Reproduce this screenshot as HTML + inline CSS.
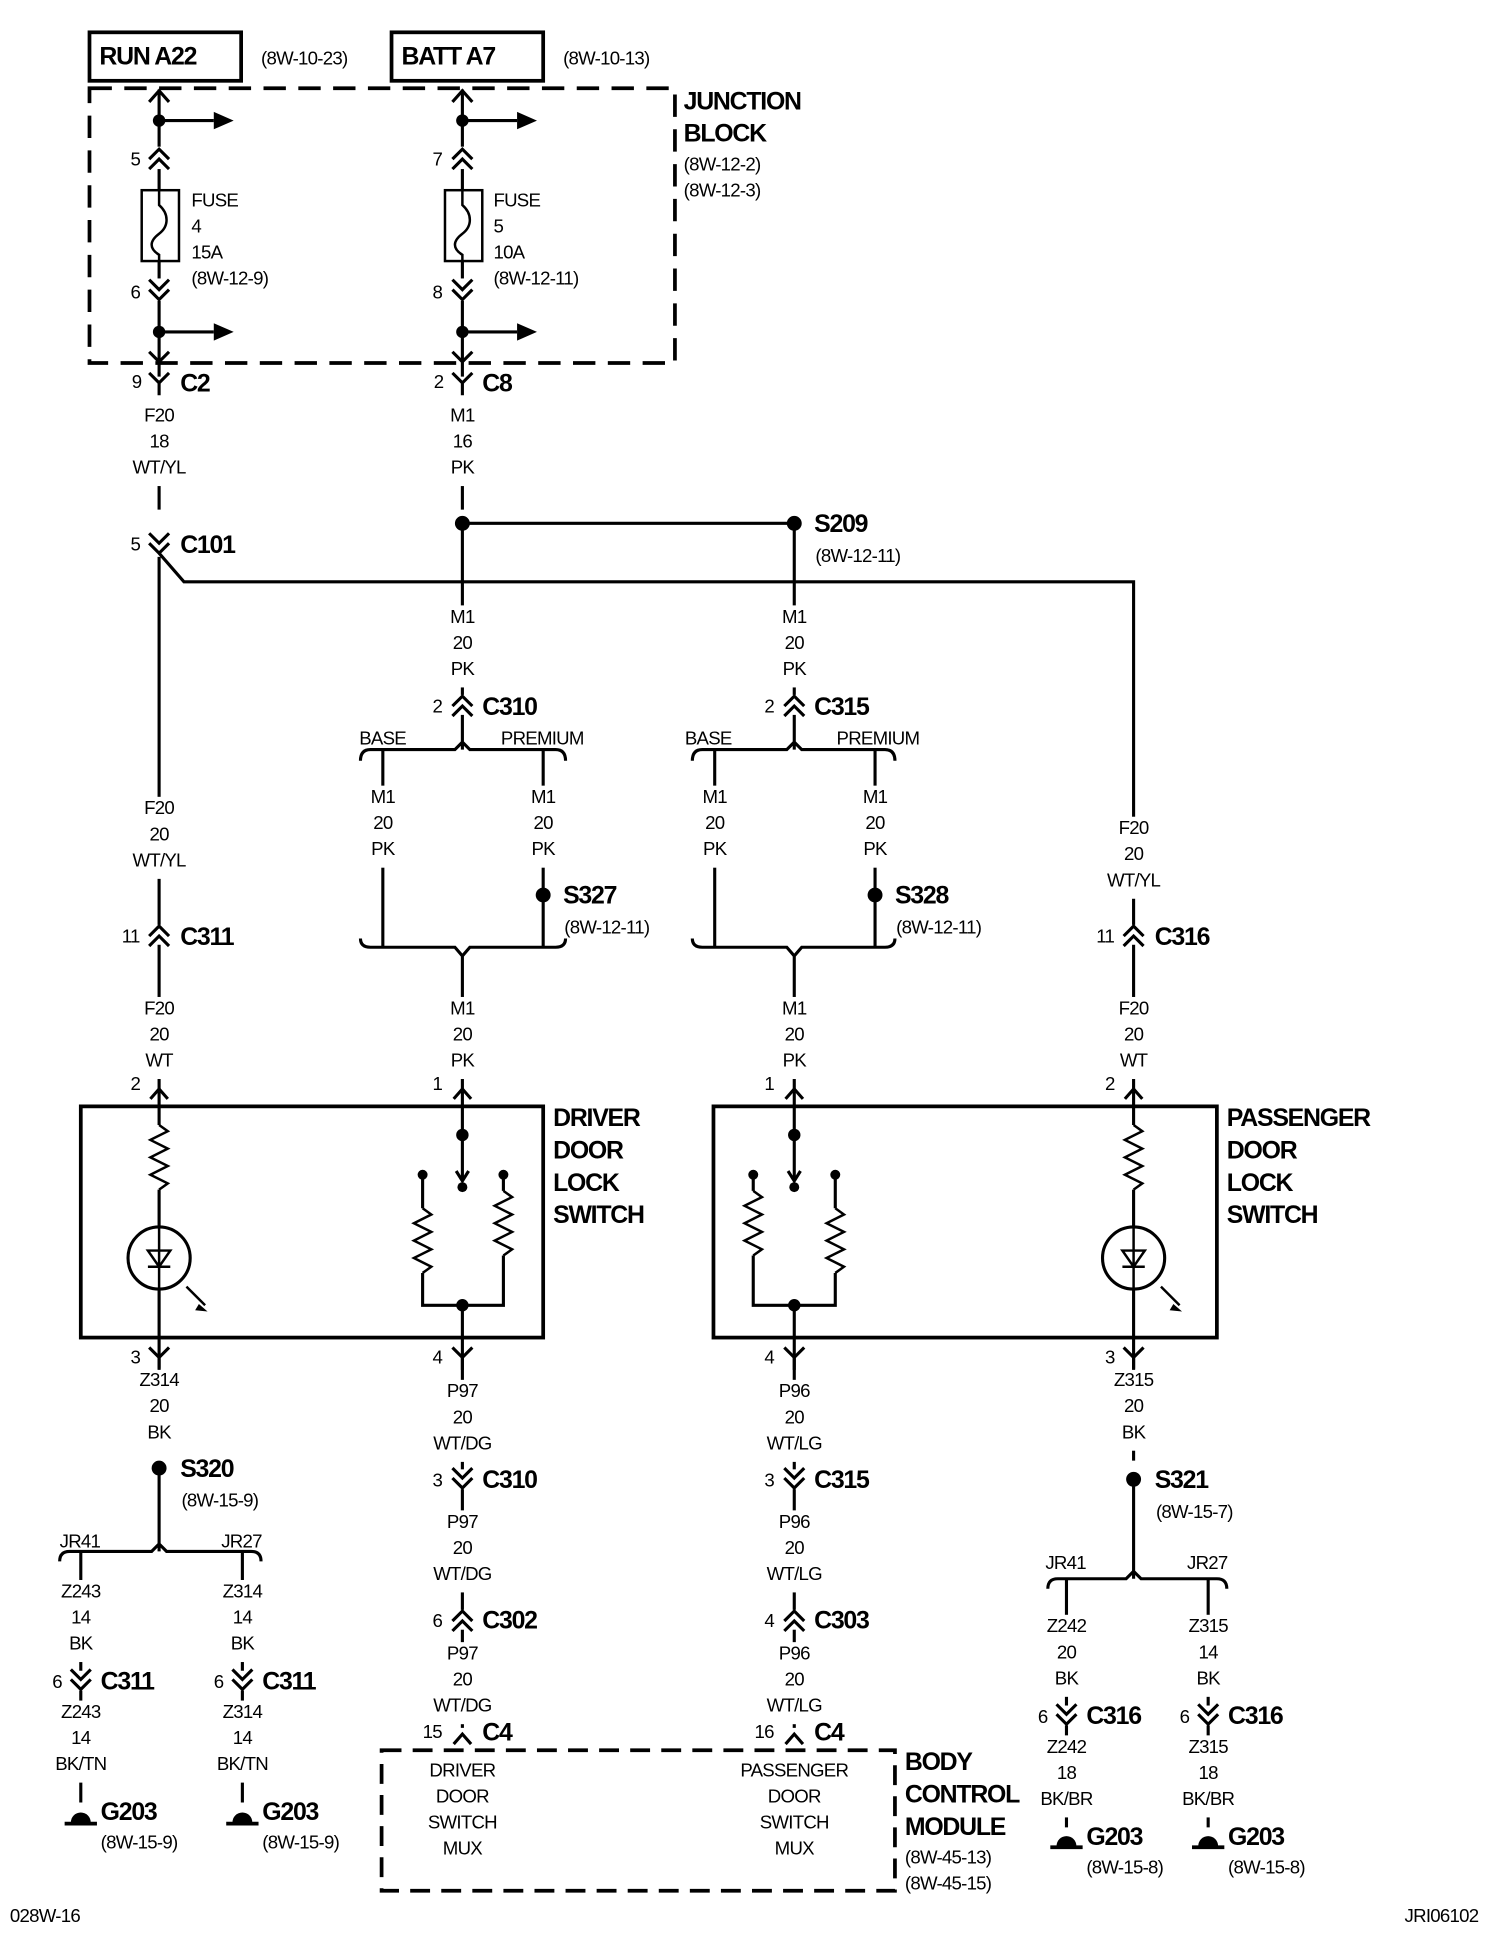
<!DOCTYPE html>
<html><head><meta charset="utf-8"><style>
html,body{margin:0;padding:0;background:#fff;}
svg{display:block;}
text{font-family:"Liberation Sans Narrow","Liberation Sans",sans-serif;font-size:15px;fill:#000;letter-spacing:-0.6px;}
.b{font-weight:bold;font-size:20px;letter-spacing:-1px;}
.m{text-anchor:middle;}
</style></head><body>
<svg width="1504" height="1938" viewBox="0 0 1210 1559" preserveAspectRatio="none" xmlns="http://www.w3.org/2000/svg">
<defs>
<g id="dn2" fill="none" stroke="#000" stroke-width="2.5"><path d="M-8,-9 L0,-1 L8,-9 M-8,-1 L0,7 L8,-1"/></g>
<g id="up2" fill="none" stroke="#000" stroke-width="2.5"><path d="M-8,9 L0,1 L8,9 M-8,1 L0,-7 L8,1"/></g>
<g id="Y" fill="none" stroke="#000" stroke-width="2.5"><path d="M-8,-8 L0,0 L8,-8 M0,0 V10"/></g>
<g id="up1" fill="none" stroke="#000" stroke-width="2.5"><path d="M-7,6 L0,-2 L7,6"/></g>
<g id="gnd"><path d="M-8,0 A8,8 0 0 1 8,0 Z" fill="#000"/><line x1="-13" y1="1" x2="13" y2="1" stroke="#000" stroke-width="3"/></g>
<g id="res" fill="none" stroke="#000" stroke-width="2"><path d="M0,0 L7,5 L-7,12 L7,19 L-7,26 L7,33 L-7,40 L7,47 L0,52"/></g>
<rect id="lb" x="-24" y="0" width="48" height="66" fill="#fff"/>
</defs>
<g fill="none" stroke="#000" stroke-width="2.5">
<rect x="72" y="26" width="122" height="39" stroke-width="3"/>
<rect x="315" y="26" width="122" height="39" stroke-width="3"/>
<rect x="72" y="71" width="471" height="221" stroke-width="3" stroke-dasharray="18,10"/>
<path d="M128,72 V153 M128,210 V303 M128,97 H172 M128,267 H172"/>
<path d="M120,82 L128,73 L136,82 M120,283 L128,291 L136,283"/>
<rect x="114" y="153" width="30" height="57" stroke-width="2"/>
<path d="M128,153 V165 C136,172 136,182 128,188 C120,194 120,200 128,205 V210" stroke-width="2"/>
<path d="M372,72 V153 M372,210 V303 M372,97 H416 M372,267 H416"/>
<path d="M364,82 L372,73 L380,82 M364,283 L372,291 L380,283"/>
<rect x="358" y="153" width="30" height="57" stroke-width="2"/>
<path d="M372,153 V165 C380,172 380,182 372,188 C364,194 364,200 372,205 V210" stroke-width="2"/>
<path d="M128,390 V410 M128,448 V876 M128,445 L148,468 H912 V876"/>
<path d="M372,390 V410 M372,421 H639 M372,421 V560 M639,421 V560"/>
<path d="M372,575 V603 M290,612 Q290,603 298,603 H366 L372,597 L378,603 H447 Q455,603 455,612"/>
<path d="M308,603 V762 M437,603 V762 M290,755 Q290,762 298,762 H366 L372,769 L378,762 H447 Q455,762 455,755 M372,769 V876"/>
<path d="M639,575 V603 M557,612 Q557,603 565,603 H633 L639,597 L645,603 H712 Q720,603 720,612"/>
<path d="M575,603 V762 M704,603 V762 M557,755 Q557,762 565,762 H633 L639,769 L645,762 H712 Q720,762 720,755 M639,769 V876"/>
<rect x="65" y="890" width="372" height="186" stroke-width="3"/>
<rect x="574" y="890" width="405" height="186" stroke-width="3"/>
<path d="M128,878 V905 M128,957 V987 M128,1037 V1100"/>
<circle cx="128" cy="1012" r="25"/>
<path d="M128,987 V1037 M119,1006 H137 L128,1019 Z M119,1019 H137" stroke-width="2"/>
<path d="M150,1035 L165,1050" stroke-width="2"/>
<path d="M372,878 V913 M372,913 V948 M367,942 L372,950 L377,942"/>
<path d="M340,945 V972 M340,1024 V1050 H405 V1024 M405,945 V958 M405,1010 V1050 M372,1050 V1100"/>
<path d="M912,878 V905 M912,957 V987 M912,1037 V1100"/>
<circle cx="912" cy="1012" r="25"/>
<path d="M912,987 V1037 M903,1006 H921 L912,1019 Z M903,1019 H921" stroke-width="2"/>
<path d="M934,1035 L949,1050" stroke-width="2"/>
<path d="M639,878 V913 M639,913 V948 M634,942 L639,950 L644,942"/>
<path d="M606,945 V958 M606,1010 V1050 H672 V1024 M672,945 V972 M639,1050 V1100"/>
<path d="M128,1100 V1165 M128,1181 V1248 M48,1256 Q48,1248 56,1248 H122 L128,1242 L134,1248 H202 Q210,1248 210,1256 M65,1248 V1450 M195,1248 V1450"/>
<path d="M372,1100 V1390 M639,1100 V1390"/>
<rect x="307" y="1408" width="413" height="113" stroke-width="3" stroke-dasharray="16,9"/>
<path d="M912,1100 V1175 M912,1190 V1270 M843,1278 Q843,1270 851,1270 H906 L912,1264 L918,1270 H979 Q987,1270 987,1278 M858,1270 V1470 M972,1270 V1470"/>
</g>
<g fill="#fff"><rect x="120" y="118" width="16" height="18"/><rect x="364" y="118" width="16" height="18"/><rect x="120" y="224" width="16" height="18"/><rect x="364" y="224" width="16" height="18"/>
<rect x="120" y="429" width="16" height="16"/><rect x="364" y="559" width="16" height="16"/><rect x="631" y="559" width="16" height="16"/>
<rect x="120" y="744" width="16" height="16"/><rect x="904" y="744" width="16" height="16"/>
<rect x="364" y="1182" width="16" height="16"/><rect x="631" y="1182" width="16" height="16"/><rect x="364" y="1295" width="16" height="16"/><rect x="631" y="1295" width="16" height="16"/>
<rect x="57" y="1344" width="16" height="16"/><rect x="187" y="1344" width="16" height="16"/><rect x="850" y="1372" width="16" height="16"/><rect x="964" y="1372" width="16" height="16"/></g>
<!-- label masks -->
<use href="#lb" x="128" y="325"/><use href="#lb" x="372" y="325"/>
<use href="#lb" x="372" y="487"/><use href="#lb" x="639" y="487"/>
<use href="#lb" x="308" y="632"/><use href="#lb" x="437" y="632"/><use href="#lb" x="575" y="632"/><use href="#lb" x="704" y="632"/>
<use href="#lb" x="128" y="641"/><use href="#lb" x="912" y="657"/>
<use href="#lb" x="128" y="802"/><use href="#lb" x="372" y="802"/><use href="#lb" x="639" y="802"/><use href="#lb" x="912" y="802"/>
<use href="#lb" x="128" y="1101"/><use href="#lb" x="372" y="1110"/><use href="#lb" x="639" y="1110"/><use href="#lb" x="912" y="1101"/>
<use href="#lb" x="372" y="1215"/><use href="#lb" x="639" y="1215"/><use href="#lb" x="372" y="1321"/><use href="#lb" x="639" y="1321"/>
<use href="#lb" x="65" y="1271"/><use href="#lb" x="195" y="1271"/><use href="#lb" x="65" y="1368"/><use href="#lb" x="195" y="1368"/>
<use href="#lb" x="858" y="1299"/><use href="#lb" x="972" y="1299"/><use href="#lb" x="858" y="1396"/><use href="#lb" x="972" y="1396"/>
<use href="#up2" x="128" y="127"/><use href="#up2" x="372" y="127"/>
<use href="#dn2" x="128" y="234"/><use href="#dn2" x="372" y="234"/>
<use href="#Y" x="128" y="308"/><use href="#Y" x="372" y="308"/>
<use href="#dn2" x="128" y="438"/>
<use href="#up2" x="372" y="567"/><use href="#up2" x="639" y="567"/>
<use href="#up2" x="128" y="752"/><use href="#up2" x="912" y="752"/>
<use href="#up1" x="128" y="878"/><use href="#up1" x="372" y="878"/><use href="#up1" x="639" y="878"/><use href="#up1" x="912" y="878"/>
<use href="#Y" x="128" y="1092"/><use href="#Y" x="372" y="1092"/><use href="#Y" x="639" y="1092"/><use href="#Y" x="912" y="1092"/>
<use href="#dn2" x="372" y="1190"/><use href="#dn2" x="639" y="1190"/>
<use href="#up2" x="372" y="1303"/><use href="#up2" x="639" y="1303"/>
<use href="#up1" x="372" y="1397"/><use href="#up1" x="639" y="1397"/>
<use href="#dn2" x="65" y="1352"/><use href="#dn2" x="195" y="1352"/>
<use href="#dn2" x="858" y="1380"/><use href="#dn2" x="972" y="1380"/>
<use href="#res" x="128" y="905"/><use href="#res" x="912" y="905"/>
<use href="#res" x="340" y="972"/><use href="#res" x="405" y="958"/>
<use href="#res" x="606" y="958"/><use href="#res" x="672" y="972"/>
<use href="#gnd" x="65" y="1466"/><use href="#gnd" x="195" y="1466"/>
<use href="#gnd" x="858" y="1485"/><use href="#gnd" x="972" y="1485"/>
<g fill="#000">
<circle cx="128" cy="97" r="5"/><circle cx="128" cy="267" r="5"/><circle cx="372" cy="97" r="5"/><circle cx="372" cy="267" r="5"/>
<path d="M172,90 L188,97 L172,104 Z M172,260 L188,267 L172,274 Z M416,90 L432,97 L416,104 Z M416,260 L432,267 L416,274 Z"/>
<circle cx="372" cy="421" r="6"/><circle cx="639" cy="421" r="6"/>
<circle cx="437" cy="720" r="6"/><circle cx="704" cy="720" r="6"/>
<circle cx="372" cy="913" r="5"/><circle cx="372" cy="955" r="4"/><circle cx="340" cy="945" r="4"/><circle cx="405" cy="945" r="4"/><circle cx="372" cy="1050" r="5"/>
<circle cx="639" cy="913" r="5"/><circle cx="639" cy="955" r="4"/><circle cx="606" cy="945" r="4"/><circle cx="672" cy="945" r="4"/><circle cx="639" cy="1050" r="5"/>
<path d="M160,1049 L167,1055 L157,1054 Z M944,1049 L951,1055 L941,1054 Z"/>
<circle cx="128" cy="1181" r="6"/><circle cx="912" cy="1190" r="6"/>
</g>
<text class="b" x="80" y="52">RUN A22</text><text x="210" y="52">(8W-10-23)</text>
<text class="b" x="323" y="52">BATT A7</text><text x="453" y="52">(8W-10-13)</text>
<text class="b" x="550" y="88">JUNCTION</text><text class="b" x="550" y="114">BLOCK</text>
<text x="550" y="137">(8W-12-2)</text><text x="550" y="158">(8W-12-3)</text>
<text x="154" y="166">FUSE</text><text x="154" y="187">4</text><text x="154" y="208">15A</text><text x="154" y="229">(8W-12-9)</text>
<text x="397" y="166">FUSE</text><text x="397" y="187">5</text><text x="397" y="208">10A</text><text x="397" y="229">(8W-12-11)</text>
<text x="105" y="133">5</text><text x="105" y="240">6</text><text x="348" y="133">7</text><text x="348" y="240">8</text>
<text x="106" y="312">9</text><text class="b" x="145" y="315">C2</text>
<text x="349" y="312">2</text><text class="b" x="388" y="315">C8</text>
<text class="m" x="128" y="339">F20</text><text class="m" x="128" y="360">18</text><text class="m" x="128" y="381">WT/YL</text>
<text class="m" x="372" y="339">M1</text><text class="m" x="372" y="360">16</text><text class="m" x="372" y="381">PK</text>
<text class="m" x="372" y="501">M1</text><text class="m" x="372" y="522">20</text><text class="m" x="372" y="543">PK</text>
<text class="m" x="639" y="501">M1</text><text class="m" x="639" y="522">20</text><text class="m" x="639" y="543">PK</text>
<text class="m" x="308" y="646">M1</text><text class="m" x="308" y="667">20</text><text class="m" x="308" y="688">PK</text>
<text class="m" x="437" y="646">M1</text><text class="m" x="437" y="667">20</text><text class="m" x="437" y="688">PK</text>
<text class="m" x="575" y="646">M1</text><text class="m" x="575" y="667">20</text><text class="m" x="575" y="688">PK</text>
<text class="m" x="704" y="646">M1</text><text class="m" x="704" y="667">20</text><text class="m" x="704" y="688">PK</text>
<text class="m" x="128" y="655">F20</text><text class="m" x="128" y="676">20</text><text class="m" x="128" y="697">WT/YL</text>
<text class="m" x="912" y="671">F20</text><text class="m" x="912" y="692">20</text><text class="m" x="912" y="713">WT/YL</text>
<text class="m" x="128" y="816">F20</text><text class="m" x="128" y="837">20</text><text class="m" x="128" y="858">WT</text>
<text class="m" x="372" y="816">M1</text><text class="m" x="372" y="837">20</text><text class="m" x="372" y="858">PK</text>
<text class="m" x="639" y="816">M1</text><text class="m" x="639" y="837">20</text><text class="m" x="639" y="858">PK</text>
<text class="m" x="912" y="816">F20</text><text class="m" x="912" y="837">20</text><text class="m" x="912" y="858">WT</text>
<text class="m" x="128" y="1115">Z314</text><text class="m" x="128" y="1136">20</text><text class="m" x="128" y="1157">BK</text>
<text class="m" x="372" y="1124">P97</text><text class="m" x="372" y="1145">20</text><text class="m" x="372" y="1166">WT/DG</text>
<text class="m" x="639" y="1124">P96</text><text class="m" x="639" y="1145">20</text><text class="m" x="639" y="1166">WT/LG</text>
<text class="m" x="912" y="1115">Z315</text><text class="m" x="912" y="1136">20</text><text class="m" x="912" y="1157">BK</text>
<text class="m" x="372" y="1229">P97</text><text class="m" x="372" y="1250">20</text><text class="m" x="372" y="1271">WT/DG</text>
<text class="m" x="639" y="1229">P96</text><text class="m" x="639" y="1250">20</text><text class="m" x="639" y="1271">WT/LG</text>
<text class="m" x="372" y="1335">P97</text><text class="m" x="372" y="1356">20</text><text class="m" x="372" y="1377">WT/DG</text>
<text class="m" x="639" y="1335">P96</text><text class="m" x="639" y="1356">20</text><text class="m" x="639" y="1377">WT/LG</text>
<text class="m" x="65" y="1285">Z243</text><text class="m" x="65" y="1306">14</text><text class="m" x="65" y="1327">BK</text>
<text class="m" x="195" y="1285">Z314</text><text class="m" x="195" y="1306">14</text><text class="m" x="195" y="1327">BK</text>
<text class="m" x="65" y="1382">Z243</text><text class="m" x="65" y="1403">14</text><text class="m" x="65" y="1424">BK/TN</text>
<text class="m" x="195" y="1382">Z314</text><text class="m" x="195" y="1403">14</text><text class="m" x="195" y="1424">BK/TN</text>
<text class="m" x="858" y="1313">Z242</text><text class="m" x="858" y="1334">20</text><text class="m" x="858" y="1355">BK</text>
<text class="m" x="972" y="1313">Z315</text><text class="m" x="972" y="1334">14</text><text class="m" x="972" y="1355">BK</text>
<text class="m" x="858" y="1410">Z242</text><text class="m" x="858" y="1431">18</text><text class="m" x="858" y="1452">BK/BR</text>
<text class="m" x="972" y="1410">Z315</text><text class="m" x="972" y="1431">18</text><text class="m" x="972" y="1452">BK/BR</text>
<text class="m" x="372" y="1429">DRIVER</text><text class="m" x="372" y="1450">DOOR</text><text class="m" x="372" y="1471">SWITCH</text><text class="m" x="372" y="1492">MUX</text>
<text class="m" x="639" y="1429">PASSENGER</text><text class="m" x="639" y="1450">DOOR</text><text class="m" x="639" y="1471">SWITCH</text><text class="m" x="639" y="1492">MUX</text>
<text x="105" y="443">5</text><text class="b" x="145" y="445">C101</text>
<text class="b" x="655" y="428">S209</text><text x="656" y="452">(8W-12-11)</text>
<text x="348" y="573">2</text><text class="b" x="388" y="575">C310</text>
<text x="615" y="573">2</text><text class="b" x="655" y="575">C315</text>
<text x="289" y="599">BASE</text><text x="403" y="599">PREMIUM</text>
<text x="551" y="599">BASE</text><text x="673" y="599">PREMIUM</text>
<text class="b" x="453" y="727">S327</text><text x="454" y="751">(8W-12-11)</text>
<text class="b" x="720" y="727">S328</text><text x="721" y="751">(8W-12-11)</text>
<text x="98" y="758">11</text><text class="b" x="145" y="760">C311</text>
<text x="882" y="758">11</text><text class="b" x="929" y="760">C316</text>
<text x="105" y="877">2</text><text x="348" y="877">1</text><text x="615" y="877">1</text><text x="889" y="877">2</text>
<text class="b" x="445" y="906">DRIVER</text><text class="b" x="445" y="932">DOOR</text><text class="b" x="445" y="958">LOCK</text><text class="b" x="445" y="984">SWITCH</text>
<text class="b" x="987" y="906">PASSENGER</text><text class="b" x="987" y="932">DOOR</text><text class="b" x="987" y="958">LOCK</text><text class="b" x="987" y="984">SWITCH</text>
<text x="105" y="1097">3</text><text x="348" y="1097">4</text><text x="615" y="1097">4</text><text x="889" y="1097">3</text>
<text class="b" x="145" y="1188">S320</text><text x="146" y="1212">(8W-15-9)</text>
<text class="b" x="929" y="1197">S321</text><text x="930" y="1221">(8W-15-7)</text>
<text x="348" y="1196">3</text><text class="b" x="388" y="1197">C310</text>
<text x="615" y="1196">3</text><text class="b" x="655" y="1197">C315</text>
<text x="348" y="1309">6</text><text class="b" x="388" y="1310">C302</text>
<text x="615" y="1309">4</text><text class="b" x="655" y="1310">C303</text>
<text x="340" y="1398">15</text><text class="b" x="388" y="1400">C4</text>
<text x="607" y="1398">16</text><text class="b" x="655" y="1400">C4</text>
<text x="48" y="1245">JR41</text><text x="178" y="1245">JR27</text>
<text x="841" y="1262">JR41</text><text x="955" y="1262">JR27</text>
<text x="42" y="1358">6</text><text class="b" x="81" y="1359">C311</text>
<text x="172" y="1358">6</text><text class="b" x="211" y="1359">C311</text>
<text x="835" y="1386">6</text><text class="b" x="874" y="1387">C316</text>
<text x="949" y="1386">6</text><text class="b" x="988" y="1387">C316</text>
<text class="b" x="81" y="1464">G203</text><text x="81" y="1487">(8W-15-9)</text>
<text class="b" x="211" y="1464">G203</text><text x="211" y="1487">(8W-15-9)</text>
<text class="b" x="874" y="1484">G203</text><text x="874" y="1507">(8W-15-8)</text>
<text class="b" x="988" y="1484">G203</text><text x="988" y="1507">(8W-15-8)</text>
<text class="b" x="728" y="1424">BODY</text><text class="b" x="728" y="1450">CONTROL</text><text class="b" x="728" y="1476">MODULE</text>
<text x="728" y="1499">(8W-45-13)</text><text x="728" y="1520">(8W-45-15)</text>
<text x="8" y="1546">028W-16</text><text x="1130" y="1546">JRI06102</text>
</svg>
</body></html>
